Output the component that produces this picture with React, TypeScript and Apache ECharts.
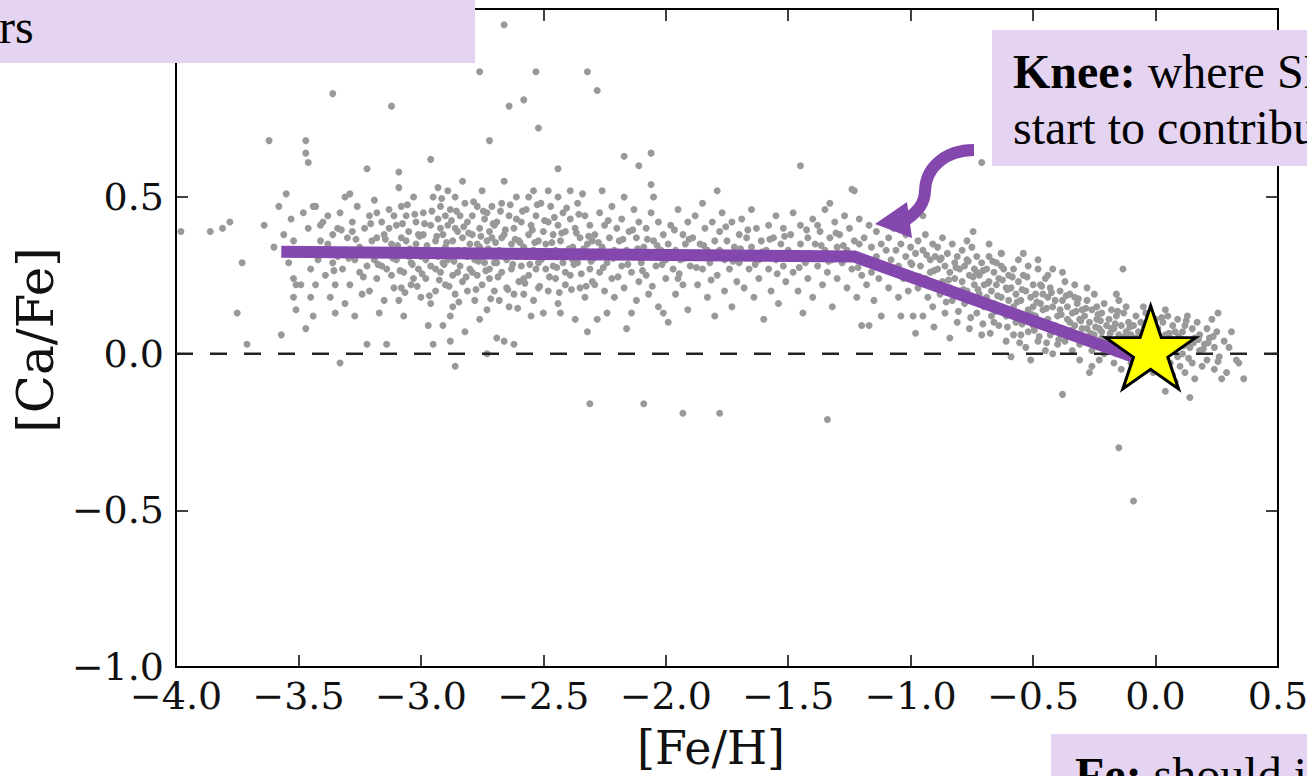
import React, { useEffect, useRef } from "react";
import * as echarts from "echarts";

// Axis settings for the [Ca/Fe] vs [Fe/H] diagram
const feHTicks = { min: -4.0, max: 0.5, step: 0.5 };
const caFeTicks = { min: -1.0, max: 1.1, step: 0.5 };

// Isolated stars away from the main sequences
const scatteredStars: [number, number][] = [
  [-2.66, 1.05], [-3.36, 0.83], [-3.12, 0.79], [-2.76, 0.9], [-2.53, 0.9], [-2.32, 0.9], [-2.28, 0.84],
  [-2.64, 0.79], [-2.58, 0.81], [-2.52, 0.72], [-3.62, 0.68], [-3.47, 0.68], [-3.47, 0.64], [-3.46, 0.61],
  [-2.72, 0.68], [-3.22, 0.59], [-2.96, 0.62], [-3.09, 0.58], [-2.06, 0.64], [-1.45, 0.6], [-0.71, 0.61],
  [-1.24, 0.525], [-1.79, 0.52], [-2.06, 0.54], [-3.98, 0.39], [-3.86, 0.39], [-3.81, 0.4], [-3.78, 0.42],
  [-3.73, 0.29], [-3.75, 0.13], [-3.71, 0.03], [-3.33, -0.03], [-2.86, -0.04], [-2.73, 0.0], [-2.31, -0.16],
  [-2.09, -0.16], [-1.93, -0.19], [-1.78, -0.19], [-1.34, -0.21], [-0.15, -0.3], [-0.09, -0.47], [-0.38, -0.13],
  [0.36, -0.08], [0.27, -0.08], [0.14, -0.14], [0.04, -0.12], [-0.133, 0.27], [0.255, 0.13], [-0.745, 0.39],
  [-0.95, 0.44], [-1.23, 0.52], [-1.33, 0.48], [-3.64, 0.41], [-2.44, 0.59], [-2.17, 0.63], [-2.39, 0.52],
  [-2.11, 0.6], [0.3, 0.02], [0.34, -0.03], [-0.63, 0.32], [-0.48, 0.27], [-1.17, 0.09], [-0.84, 0.05],
  [-0.59, -0.01], [-0.51, -0.02], [-0.27, -0.06],
];

// Metal-poor halo stars on the alpha plateau
const haloStars: [number, number][] = [
  [-3.55, 0.51], [-3.53, 0.43], [-3.56, 0.38], [-3.52, 0.36], [-3.52, 0.24], [-3.51, 0.22], [-3.52, 0.18], [-3.51, 0.14], [-3.57, 0.06], [-3.6, 0.34], [-3.58, 0.47], [-3.54, 0.29],
  [-3.49, 0.22], [-3.47, 0.08], [-3.45, 0.27], [-3.45, 0.18], [-3.44, 0.47], [-3.43, 0.47], [-3.47, 0.32], [-3.46, 0.4], [-3.42, 0.3], [-3.41, 0.36], [-3.48, 0.45], [-3.44, 0.12], [-3.43, 0.22], [-3.41, 0.41],
  [-3.4, 0.42], [-3.38, 0.44], [-3.37, 0.18], [-3.35, 0.13], [-3.39, 0.25], [-3.36, 0.29], [-3.36, 0.38], [-3.34, 0.4], [-3.33, 0.33], [-3.33, 0.45], [-3.32, 0.27], [-3.31, 0.5], [-3.38, 0.35], [-3.35, 0.22], [-3.31, 0.16], [-3.34, 0.31],
  [-3.3, 0.37], [-3.29, 0.22], [-3.28, 0.42], [-3.27, 0.3], [-3.26, 0.47], [-3.25, 0.34], [-3.24, 0.19], [-3.23, 0.4], [-3.22, 0.03], [-3.22, 0.28], [-3.21, 0.44], [-3.2, 0.36], [-3.29, 0.51], [-3.27, 0.12], [-3.25, 0.26], [-3.23, 0.33], [-3.21, 0.2], [-3.28, 0.39],
  [-3.19, 0.49], [-3.18, 0.24], [-3.17, 0.13], [-3.17, 0.32], [-3.16, 0.42], [-3.15, 0.38], [-3.14, 0.03], [-3.14, 0.27], [-3.13, 0.46], [-3.12, 0.35], [-3.11, 0.21], [-3.19, 0.3], [-3.18, 0.37], [-3.16, 0.28], [-3.15, 0.17], [-3.13, 0.4], [-3.12, 0.25], [-3.11, 0.44], [-3.18, 0.45], [-3.14, 0.33],
  [-3.1, 0.41], [-3.1, 0.3], [-3.09, 0.17], [-3.08, 0.47], [-3.08, 0.37], [-3.07, 0.26], [-3.06, 0.44], [-3.06, 0.33], [-3.05, 0.39], [-3.04, 0.22], [-3.04, 0.29], [-3.03, 0.5], [-3.02, 0.35], [-3.02, 0.42], [-3.01, 0.27], [-3.0, 0.18], [-3.0, 0.31], [-3.09, 0.53], [-3.07, 0.12], [-3.05, 0.31], [-3.03, 0.24], [-3.01, 0.38], [-3.08, 0.21], [-3.06, 0.36],
  [-2.99, 0.45], [-2.99, 0.38], [-2.98, 0.24], [-2.97, 0.09], [-2.97, 0.33], [-2.96, 0.41], [-2.96, 0.28], [-2.95, 0.03], [-2.95, 0.5], [-2.94, 0.36], [-2.94, 0.2], [-2.93, 0.43], [-2.93, 0.31], [-2.92, 0.26], [-2.92, 0.47], [-2.91, 0.09], [-2.91, 0.38], [-2.9, 0.34], [-2.9, 0.22], [-2.98, 0.3], [-2.96, 0.16], [-2.94, 0.27], [-2.93, 0.53], [-2.92, 0.4], [-2.91, 0.29], [-2.9, 0.44],
  [-2.89, 0.41], [-2.89, 0.3], [-2.88, 0.12], [-2.88, 0.04], [-2.88, 0.46], [-2.87, 0.36], [-2.87, 0.25], [-2.86, 0.5], [-2.86, 0.19], [-2.85, 0.39], [-2.85, 0.33], [-2.84, 0.44], [-2.84, 0.28], [-2.83, 0.23], [-2.83, 0.37], [-2.82, 0.07], [-2.82, 0.48], [-2.81, 0.31], [-2.81, 0.42], [-2.8, 0.27], [-2.8, 0.35], [-2.89, 0.52], [-2.87, 0.15], [-2.86, 0.4], [-2.85, 0.26], [-2.83, 0.55], [-2.82, 0.33], [-2.81, 0.2],
  [-2.79, 0.44], [-2.79, 0.38], [-2.78, 0.3], [-2.78, 0.17], [-2.77, 0.47], [-2.77, 0.25], [-2.76, 0.4], [-2.76, 0.34], [-2.75, 0.22], [-2.75, 0.52], [-2.74, 0.29], [-2.74, 0.43], [-2.73, 0.36], [-2.73, 0.14], [-2.72, 0.39], [-2.72, 0.27], [-2.71, 0.47], [-2.71, 0.32], [-2.7, 0.2], [-2.7, 0.41], [-2.79, 0.26], [-2.77, 0.35], [-2.76, 0.11], [-2.75, 0.31], [-2.73, 0.45], [-2.72, 0.24], [-2.71, 0.37], [-2.7, 0.29],
  [-2.69, 0.05], [-2.68, 0.17], [-2.69, 0.42], [-2.68, 0.33], [-2.67, 0.26], [-2.67, 0.48], [-2.66, 0.04], [-2.66, 0.38], [-2.65, 0.3], [-2.65, 0.21], [-2.64, 0.15], [-2.64, 0.44], [-2.63, 0.35], [-2.63, 0.27], [-2.62, 0.03], [-2.62, 0.4], [-2.61, 0.31], [-2.61, 0.5], [-2.6, 0.23], [-2.6, 0.36], [-2.69, 0.29], [-2.67, 0.37], [-2.66, 0.55], [-2.64, 0.32], [-2.62, 0.19], [-2.61, 0.43],
  [-2.59, 0.42], [-2.59, 0.28], [-2.58, 0.34], [-2.58, 0.19], [-2.57, 0.46], [-2.57, 0.31], [-2.56, 0.38], [-2.56, 0.25], [-2.55, 0.41], [-2.55, 0.12], [-2.54, 0.33], [-2.54, 0.52], [-2.53, 0.27], [-2.53, 0.44], [-2.52, 0.36], [-2.52, 0.21], [-2.51, 0.3], [-2.51, 0.48], [-2.5, 0.13], [-2.5, 0.39], [-2.58, 0.24], [-2.56, 0.5], [-2.54, 0.17], [-2.52, 0.29],
  [-2.49, 0.35], [-2.49, 0.27], [-2.48, 0.42], [-2.48, 0.2], [-2.47, 0.31], [-2.47, 0.47], [-2.46, 0.38], [-2.45, 0.24], [-2.45, 0.33], [-2.44, 0.41], [-2.44, 0.16], [-2.43, 0.13], [-2.43, 0.36], [-2.42, 0.29], [-2.42, 0.45], [-2.41, 0.22], [-2.41, 0.39], [-2.4, 0.32], [-2.48, 0.52], [-2.46, 0.28], [-2.44, 0.5], [-2.41, 0.26],
  [-2.39, 0.43], [-2.39, 0.25], [-2.38, 0.34], [-2.37, 0.11], [-2.37, 0.4], [-2.36, 0.29], [-2.36, 0.48], [-2.35, 0.21], [-2.35, 0.37], [-2.34, 0.32], [-2.33, 0.44], [-2.33, 0.18], [-2.32, 0.07], [-2.32, 0.35], [-2.31, 0.27], [-2.31, 0.41], [-2.3, 0.23], [-2.38, 0.3], [-2.34, 0.51], [-2.3, 0.36],
  [-2.29, 0.38], [-2.28, 0.11], [-2.28, 0.31], [-2.27, 0.45], [-2.27, 0.26], [-2.26, 0.34], [-2.25, 0.2], [-2.25, 0.41], [-2.24, 0.13], [-2.24, 0.29], [-2.23, 0.37], [-2.22, 0.47], [-2.22, 0.24], [-2.21, 0.33], [-2.2, 0.4], [-2.29, 0.22], [-2.26, 0.52], [-2.21, 0.18],
  [-2.19, 0.36], [-2.18, 0.28], [-2.18, 0.43], [-2.17, 0.21], [-2.16, 0.08], [-2.16, 0.33], [-2.15, 0.39], [-2.14, 0.13], [-2.14, 0.26], [-2.13, 0.46], [-2.13, 0.31], [-2.12, 0.37], [-2.11, 0.23], [-2.11, 0.42], [-2.1, 0.29], [-2.17, 0.5], [-2.12, 0.17],
  [-2.09, 0.34], [-2.08, 0.4], [-2.08, 0.25], [-2.07, 0.19], [-2.06, 0.31], [-2.06, 0.45], [-2.05, 0.36], [-2.04, 0.28], [-2.03, 0.42], [-2.03, 0.15], [-2.02, 0.33], [-2.01, 0.13], [-2.01, 0.38], [-2.0, 0.24], [-2.05, 0.5], [-2.0, 0.3],
  [-1.99, 0.1], [-1.99, 0.35], [-1.98, 0.41], [-1.97, 0.27], [-1.96, 0.33], [-1.96, 0.19], [-1.95, 0.46], [-1.94, 0.3], [-1.93, 0.38], [-1.93, 0.22], [-1.92, 0.35], [-1.91, 0.42], [-1.91, 0.14], [-1.9, 0.28], [-1.95, 0.24],
  [-1.89, 0.37], [-1.88, 0.31], [-1.88, 0.44], [-1.87, 0.22], [-1.86, 0.35], [-1.85, 0.27], [-1.85, 0.48], [-1.84, 0.4], [-1.83, 0.18], [-1.83, 0.33], [-1.82, 0.29], [-1.81, 0.42], [-1.8, 0.36], [-1.8, 0.12],
  [-1.79, 0.25], [-1.78, 0.39], [-1.78, 0.33], [-1.77, 0.45], [-1.76, 0.2], [-1.76, 0.3], [-1.75, 0.36], [-1.74, 0.27], [-1.73, 0.42], [-1.73, 0.15], [-1.72, 0.34], [-1.71, 0.23], [-1.7, 0.38], [-1.7, 0.29],
  [-1.69, 0.43], [-1.68, 0.32], [-1.68, 0.21], [-1.67, 0.37], [-1.66, 0.27], [-1.65, 0.46], [-1.65, 0.34], [-1.64, 0.18], [-1.63, 0.4], [-1.62, 0.3], [-1.62, 0.24], [-1.61, 0.36], [-1.6, 0.11],
  [-1.59, 0.33], [-1.58, 0.41], [-1.58, 0.27], [-1.57, 0.2], [-1.56, 0.37], [-1.55, 0.3], [-1.55, 0.44], [-1.54, 0.16], [-1.53, 0.35], [-1.52, 0.28], [-1.52, 0.4], [-1.51, 0.23], [-1.5, 0.33],
  [-1.49, 0.38], [-1.48, 0.26], [-1.48, 0.45], [-1.47, 0.31], [-1.46, 0.2], [-1.45, 0.35], [-1.45, 0.41], [-1.44, 0.13], [-1.43, 0.29], [-1.42, 0.37], [-1.42, 0.24], [-1.41, 0.32], [-1.4, 0.43], [-1.4, 0.18],
  [-1.39, 0.35], [-1.38, 0.28], [-1.38, 0.41], [-1.37, 0.39], [-1.36, 0.22], [-1.35, 0.33], [-1.35, 0.46], [-1.34, 0.26], [-1.33, 0.37], [-1.32, 0.15], [-1.32, 0.3], [-1.31, 0.42], [-1.3, 0.24], [-1.3, 0.34],
  [-1.29, 0.38], [-1.28, 0.29], [-1.27, 0.44], [-1.26, 0.21], [-1.26, 0.33], [-1.25, 0.4], [-1.24, 0.27], [-1.23, 0.36], [-1.22, 0.18], [-1.22, 0.31], [-1.21, 0.43], [-1.2, 0.25], [-1.2, 0.09], [-1.21, 0.35],
];

// Crowded core of the plateau
const haloCore: [number, number][] = [
  [-3.095, 0.345], [-3.085, 0.265], [-3.075, 0.415], [-3.065, 0.195], [-3.055, 0.475], [-3.045, 0.335], [-3.035, 0.285], [-3.025, 0.445], [-3.015, 0.215], [-3.005, 0.375],
  [-2.995, 0.255], [-2.985, 0.415], [-2.975, 0.345], [-2.965, 0.185], [-2.955, 0.455], [-2.945, 0.315], [-2.935, 0.375], [-2.925, 0.235], [-2.915, 0.495], [-2.905, 0.285],
  [-2.895, 0.355], [-2.885, 0.215], [-2.875, 0.425], [-2.865, 0.295], [-2.855, 0.455], [-2.845, 0.165], [-2.835, 0.315], [-2.825, 0.405], [-2.815, 0.245], [-2.805, 0.385],
  [-2.795, 0.325], [-2.785, 0.485], [-2.775, 0.205], [-2.765, 0.295], [-2.755, 0.375], [-2.745, 0.455], [-2.735, 0.265], [-2.725, 0.335], [-2.715, 0.175], [-2.705, 0.415],
  [-2.695, 0.355], [-2.685, 0.245], [-2.675, 0.455], [-2.665, 0.315], [-2.655, 0.395], [-2.645, 0.205], [-2.635, 0.475], [-2.625, 0.285], [-2.615, 0.365], [-2.605, 0.145],
  [-2.595, 0.355], [-2.585, 0.455], [-2.575, 0.225], [-2.565, 0.325], [-2.555, 0.285], [-2.545, 0.395], [-2.535, 0.355], [-2.525, 0.475], [-2.515, 0.215], [-2.505, 0.305],
  [-2.495, 0.425], [-2.485, 0.315], [-2.475, 0.245], [-2.465, 0.355], [-2.455, 0.435], [-2.445, 0.275], [-2.435, 0.195], [-2.425, 0.385], [-2.415, 0.315], [-2.405, 0.465],
  [-2.395, 0.335], [-2.385, 0.205], [-2.375, 0.285], [-2.365, 0.385], [-2.355, 0.445], [-2.345, 0.255], [-2.335, 0.335], [-2.325, 0.215], [-2.315, 0.375], [-2.305, 0.295],
  [-2.295, 0.305], [-2.275, 0.355], [-2.255, 0.275], [-2.235, 0.425], [-2.215, 0.305], [-2.195, 0.245], [-2.175, 0.365], [-2.155, 0.285], [-2.135, 0.395], [-2.115, 0.335],
  [-2.095, 0.265], [-2.075, 0.365], [-2.055, 0.215], [-2.035, 0.345], [-2.015, 0.285], [-1.985, 0.315], [-1.965, 0.395], [-1.945, 0.255], [-1.925, 0.305], [-1.905, 0.365],
  [-1.875, 0.275], [-1.845, 0.345], [-1.815, 0.235], [-1.785, 0.325], [-1.755, 0.405], [-1.725, 0.295], [-1.695, 0.335], [-1.665, 0.395], [-1.635, 0.285], [-1.605, 0.325],
  [-1.575, 0.365], [-1.545, 0.255], [-1.515, 0.375], [-1.485, 0.305], [-1.455, 0.275], [-1.425, 0.395], [-1.395, 0.305], [-1.365, 0.345], [-1.335, 0.295], [-1.305, 0.385],
  [-1.275, 0.345], [-1.245, 0.305], [-1.215, 0.275],
  [-3.385, 0.335], [-3.355, 0.265], [-3.325, 0.395], [-3.295, 0.305], [-3.265, 0.365], [-3.235, 0.245], [-3.205, 0.415], [-3.175, 0.285], [-3.145, 0.365], [-3.115, 0.305],
];

// Disk stars along the declining branch after the knee
const diskStars: [number, number][] = [
  [-1.19, 0.37], [-1.18, 0.3], [-1.18, 0.22], [-1.17, 0.41], [-1.16, 0.26], [-1.16, 0.34], [-1.15, 0.17], [-1.14, 0.31], [-1.14, 0.39], [-1.13, 0.24], [-1.12, 0.35], [-1.12, 0.12], [-1.11, 0.28], [-1.1, 0.33],
  [-1.09, 0.21], [-1.09, 0.37], [-1.08, 0.3], [-1.07, 0.26], [-1.07, 0.4], [-1.06, 0.33], [-1.05, 0.18], [-1.05, 0.28], [-1.04, 0.12], [-1.04, 0.35], [-1.03, 0.24], [-1.02, 0.31], [-1.02, 0.38], [-1.01, 0.2], [-1.0, 0.29], [-1.0, 0.34],
  [-0.99, 0.12], [-0.99, 0.25], [-0.98, 0.32], [-0.98, 0.065], [-0.97, 0.36], [-0.97, 0.21], [-0.96, 0.28], [-0.95, 0.12], [-0.95, 0.33], [-0.94, 0.24], [-0.94, 0.38], [-0.93, 0.18], [-0.92, 0.3], [-0.92, 0.26], [-0.91, 0.35], [-0.91, 0.15], [-0.9, 0.22], [-0.9, 0.31],
  [-0.89, 0.27], [-0.89, 0.34], [-0.88, 0.19], [-0.88, 0.3], [-0.87, 0.23], [-0.87, 0.37], [-0.86, 0.13], [-0.86, 0.28], [-0.85, 0.32], [-0.84, 0.21], [-0.84, 0.26], [-0.83, 0.35], [-0.83, 0.17], [-0.82, 0.29], [-0.82, 0.24], [-0.81, 0.31], [-0.81, 0.1], [-0.8, 0.2], [-0.8, 0.27],
  [-0.79, 0.33], [-0.79, 0.23], [-0.78, 0.16], [-0.78, 0.28], [-0.77, 0.3], [-0.77, 0.2], [-0.76, 0.25], [-0.76, 0.08], [-0.75, 0.34], [-0.75, 0.18], [-0.74, 0.27], [-0.74, 0.22], [-0.73, 0.13], [-0.73, 0.31], [-0.72, 0.25], [-0.72, 0.19], [-0.71, 0.29], [-0.71, 0.06], [-0.7, 0.22], [-0.7, 0.15], [-0.77, 0.36], [-0.73, 0.26],
  [-0.69, 0.27], [-0.69, 0.18], [-0.68, 0.23], [-0.68, 0.31], [-0.67, 0.12], [-0.67, 0.2], [-0.66, 0.26], [-0.66, 0.16], [-0.65, 0.29], [-0.65, 0.22], [-0.64, 0.09], [-0.64, 0.24], [-0.63, 0.32], [-0.63, 0.18], [-0.62, 0.14], [-0.62, 0.27], [-0.61, 0.21], [-0.61, 0.04], [-0.6, 0.17], [-0.6, 0.25], [-0.68, 0.35], [-0.66, 0.1], [-0.63, 0.28], [-0.61, 0.12],
  [-0.59, 0.21], [-0.58, 0.15], [-0.58, 0.27], [-0.57, 0.19], [-0.57, 0.1], [-0.56, 0.23], [-0.56, 0.3], [-0.55, 0.06], [-0.55, 0.17], [-0.54, 0.25], [-0.54, 0.12], [-0.53, 0.2], [-0.53, 0.02], [-0.52, 0.14], [-0.52, 0.28], [-0.51, 0.18], [-0.5, 0.22], [-0.5, 0.09], [-0.58, 0.06], [-0.56, 0.13], [-0.54, 0.32], [-0.52, 0.07], [-0.5, 0.15],
  [-0.49, 0.19], [-0.49, 0.12], [-0.48, 0.04], [-0.47, 0.16], [-0.47, 0.22], [-0.46, 0.09], [-0.46, 0.14], [-0.45, 0.24], [-0.45, 0.01], [-0.44, 0.18], [-0.44, 0.11], [-0.43, 0.06], [-0.43, 0.21], [-0.42, 0.15], [-0.42, 0.27], [-0.41, 0.09], [-0.41, 0.17], [-0.4, 0.12], [-0.4, 0.03], [-0.48, 0.3], [-0.46, 0.19], [-0.44, 0.25], [-0.42, 0.0],
  [-0.39, 0.2], [-0.39, 0.14], [-0.38, 0.08], [-0.38, 0.17], [-0.37, 0.23], [-0.37, 0.04], [-0.36, 0.11], [-0.36, 0.15], [-0.35, 0.06], [-0.35, 0.19], [-0.34, 0.01], [-0.34, 0.13], [-0.33, 0.09], [-0.33, 0.22], [-0.32, 0.16], [-0.32, 0.05], [-0.31, 0.11], [-0.31, -0.02], [-0.3, 0.14], [-0.3, 0.08], [-0.38, 0.26], [-0.35, 0.1], [-0.33, 0.18], [-0.31, 0.03],
  [-0.29, 0.12], [-0.29, 0.04], [-0.28, 0.17], [-0.28, 0.08], [-0.27, 0.1], [-0.26, 0.01], [-0.26, 0.14], [-0.25, 0.06], [-0.25, 0.19], [-0.24, 0.03], [-0.24, 0.11], [-0.23, 0.08], [-0.23, -0.02], [-0.22, 0.13], [-0.22, 0.05], [-0.21, 0.16], [-0.21, 0.0], [-0.2, 0.09], [-0.2, 0.03], [-0.28, 0.21], [-0.26, -0.04], [-0.24, 0.15], [-0.22, 0.07],
  [-0.19, 0.11], [-0.19, 0.05], [-0.18, 0.02], [-0.18, 0.14], [-0.17, -0.03], [-0.17, 0.08], [-0.16, 0.12], [-0.16, 0.0], [-0.15, 0.06], [-0.15, 0.17], [-0.14, -0.05], [-0.14, 0.09], [-0.13, 0.03], [-0.13, 0.13], [-0.12, 0.07], [-0.12, -0.01], [-0.11, 0.1], [-0.11, 0.04], [-0.1, -0.03], [-0.1, 0.06], [-0.18, 0.08], [-0.16, 0.19], [-0.14, 0.01], [-0.12, 0.15],
  [-0.09, 0.09], [-0.09, 0.01], [-0.08, 0.05], [-0.08, 0.12], [-0.07, -0.02], [-0.07, 0.07], [-0.06, 0.03], [-0.06, 0.1], [-0.05, -0.05], [-0.05, 0.06], [-0.04, 0.0], [-0.04, 0.13], [-0.03, 0.04], [-0.03, -0.03], [-0.02, 0.08], [-0.01, 0.02], [-0.01, -0.06], [0.0, 0.05], [0.0, 0.11], [-0.08, -0.07], [-0.05, 0.15], [-0.02, -0.01],
  [0.01, 0.08], [0.01, -0.02], [0.02, 0.03], [0.03, 0.1], [0.03, -0.05], [0.04, 0.06], [0.05, 0.01], [0.05, 0.12], [0.06, -0.03], [0.06, 0.05], [0.07, 0.09], [0.07, -0.07], [0.08, 0.02], [0.08, 0.07], [0.09, -0.01], [0.09, 0.11], [0.1, 0.04], [0.1, -0.04], [0.04, 0.14], [0.08, -0.09],
  [0.11, 0.07], [0.11, 0.0], [0.12, 0.09], [0.12, -0.06], [0.13, 0.04], [0.13, 0.12], [0.14, 0.02], [0.15, -0.03], [0.15, 0.08], [0.16, 0.05], [0.16, -0.08], [0.17, 0.1], [0.18, 0.01], [0.18, 0.06], [0.19, -0.04], [0.2, 0.03],
  [0.21, 0.08], [0.21, -0.02], [0.22, 0.05], [0.23, 0.11], [0.24, -0.05], [0.24, 0.02], [0.25, 0.07], [0.26, -0.01], [0.28, 0.04], [0.29, -0.06], [0.31, 0.07], [0.33, -0.02],
];

// Crowded core of the declining branch
const diskCore: [number, number][] = [
  [-0.995, 0.285], [-0.965, 0.245], [-0.935, 0.315], [-0.905, 0.265], [-0.875, 0.305], [-0.845, 0.235], [-0.815, 0.275], [-0.785, 0.205], [-0.765, 0.295], [-0.745, 0.245],
  [-0.725, 0.205], [-0.705, 0.265], [-0.685, 0.225], [-0.665, 0.295], [-0.645, 0.185], [-0.625, 0.235], [-0.605, 0.205], [-0.585, 0.245], [-0.565, 0.165], [-0.545, 0.205],
  [-0.525, 0.245], [-0.505, 0.125], [-0.485, 0.165], [-0.465, 0.215], [-0.445, 0.145], [-0.425, 0.195], [-0.405, 0.085], [-0.385, 0.125], [-0.365, 0.185], [-0.345, 0.075],
  [-0.325, 0.135], [-0.305, 0.105], [-0.285, 0.145], [-0.265, 0.065], [-0.245, 0.085], [-0.225, 0.105], [-0.205, 0.045], [-0.185, 0.065], [-0.165, 0.095], [-0.145, 0.035],
  [-0.125, 0.055], [-0.105, 0.085], [-0.085, 0.025], [-0.065, 0.055], [-0.045, 0.085], [-0.025, 0.035], [-0.005, 0.075], [0.015, 0.035], [0.035, 0.015], [0.055, 0.065],
  [0.075, 0.035], [0.095, 0.055], [0.115, 0.025], [0.135, -0.015], [0.155, 0.035], [0.175, 0.045], [0.195, 0.015], [0.215, 0.035], [0.235, 0.055], [0.255, -0.025],
  [-0.555, 0.035], [-0.475, 0.055], [-0.395, 0.045], [-0.315, 0.175], [-0.235, 0.125], [-0.155, 0.135], [-0.075, -0.035], [0.025, 0.115], [0.125, 0.105], [-0.675, 0.065],
  [-0.905, 0.085], [-0.855, 0.165], [-0.805, 0.135], [-0.755, 0.115], [-0.705, 0.095], [-0.655, 0.135], [-0.605, 0.085], [-0.545, 0.095], [-0.495, 0.075], [-0.445, 0.035],
];

// Schematic trend: plateau, knee, decline toward solar
const trendLine: [number, number][] = [
  [-3.57, 0.325],
  [-1.23, 0.31],
  [-0.09, -0.01],
];

// Solar reference line and the Sun itself
const solarLine: [number, number][] = [
  [-4.0, 0.0],
  [0.5, 0.0],
];
const sunPoint: [number, number][] = [[-0.02, 0.02]];

const starPath =
  "path://M100,0 L122.45,69.1 L195.1,69.1 L136.3,111.8 L158.8,180.9 L100,138.2 L41.2,180.9 L63.7,111.8 L4.9,69.1 L77.55,69.1 Z";

const PURPLE = "#8447AD";
const BOX = "#E4D4F1";
const SERIF_TICK = "DejaVu Serif";
const SERIF_TEXT = "Liberation Serif";

const fmt = (v: number) => (v < 0 ? "\u2212" + Math.abs(v).toFixed(1) : v.toFixed(1));

const frameAxis = {
  axisLine: { show: true, onZero: false, lineStyle: { color: "#000", width: 2 } },
  axisTick: { show: true, inside: true, length: 12, lineStyle: { color: "#000", width: 1.5 } },
  splitLine: { show: false },
};

export default function App() {
  const ref = useRef<HTMLDivElement>(null);

  useEffect(() => {
    if (!ref.current) return;
    const chart = echarts.init(ref.current, undefined, { renderer: "svg" });

    const option = {
      animation: false,
      backgroundColor: "#ffffff",
      grid: { left: 176, right: 29, top: 9, bottom: 109, containLabel: false, outerBoundsMode: "none" },
      xAxis: [
        {
          type: "value",
          position: "bottom",
          min: feHTicks.min,
          max: feHTicks.max,
          interval: feHTicks.step,
          ...frameAxis,
          axisLabel: { fontFamily: SERIF_TICK, fontSize: 38, lineHeight: 22, color: "#111", margin: 18, formatter: fmt },
        },
        {
          type: "value",
          position: "top",
          min: feHTicks.min,
          max: feHTicks.max,
          interval: feHTicks.step,
          ...frameAxis,
          axisLabel: { show: false },
        },
      ],
      yAxis: [
        {
          type: "value",
          position: "left",
          min: caFeTicks.min,
          max: caFeTicks.max,
          interval: caFeTicks.step,
          ...frameAxis,
          axisLabel: {
            fontFamily: SERIF_TICK,
            fontSize: 38,
            lineHeight: 26,
            color: "#111",
            margin: 12,
            formatter: (v: number) => (v > 0.9 ? "" : fmt(v)),
          },
        },
        {
          type: "value",
          position: "right",
          min: caFeTicks.min,
          max: caFeTicks.max,
          interval: caFeTicks.step,
          ...frameAxis,
          axisLabel: { show: false },
        },
      ],
      series: [
        {
          type: "scatter",
          data: [...haloStars, ...haloCore, ...diskStars, ...diskCore, ...scatteredStars],
          symbol: "circle",
          symbolSize: 7,
          itemStyle: { color: "#999999", opacity: 1 },
          z: 2,
          silent: true,
        },
        {
          type: "line",
          data: solarLine,
          symbol: "none",
          lineStyle: { color: "#222", width: 2.5, type: [17, 17] },
          z: 3,
          silent: true,
        },
        {
          type: "line",
          data: trendLine,
          symbol: "none",
          lineStyle: { color: PURPLE, width: 12, cap: "butt", join: "miter" },
          z: 4,
          silent: true,
        },
        {
          type: "scatter",
          data: sunPoint,
          symbol: starPath,
          symbolSize: [90, 83],
          itemStyle: { color: "#FFFF00", borderColor: "#000", borderWidth: 3, opacity: 1 },
          z: 5,
          silent: true,
        },
      ],
      graphic: [
        // axis titles
        {
          type: "text",
          x: 711,
          y: 748,
          style: {
            text: "[Fe/H]",
            fontFamily: SERIF_TICK,
            fontSize: 46,
            fill: "#111",
            textAlign: "center",
            textVerticalAlign: "middle",
          },
        },
        {
          type: "text",
          x: 36,
          y: 340,
          rotation: Math.PI / 2,
          style: {
            text: "[Ca/Fe]",
            fontFamily: SERIF_TICK,
            fontSize: 50,
            fill: "#111",
            textAlign: "center",
            textVerticalAlign: "middle",
          },
        },
        // annotation boxes
        {
          type: "rect",
          z: 100,
          shape: { x: 0, y: 0, width: 475, height: 63 },
          style: { fill: BOX },
        },
        {
          type: "text",
          z: 101,
          x: -1,
          y: 26,
          style: {
            text: "rs",
            fontFamily: SERIF_TEXT,
            fontSize: 48,
            fill: "#000",
            textAlign: "left",
            textVerticalAlign: "middle",
          },
        },
        {
          type: "rect",
          z: 100,
          shape: { x: 992, y: 30, width: 330, height: 136 },
          style: { fill: BOX },
        },
        {
          type: "text",
          z: 101,
          x: 1013,
          y: 43,
          style: {
            text: "{b|Knee:} {r|where SNe Ia}\n{r|start to contribute}",
            fontFamily: SERIF_TEXT,
            fontSize: 48,
            lineHeight: 56,
            fill: "#000",
            textAlign: "left",
            textVerticalAlign: "top",
            rich: {
              b: { fontFamily: SERIF_TEXT, fontSize: 48, fontWeight: "bold", lineHeight: 56, fill: "#000" },
              r: { fontFamily: SERIF_TEXT, fontSize: 48, lineHeight: 56, fill: "#000" },
            },
          },
        },
        {
          type: "rect",
          z: 100,
          shape: { x: 1051, y: 734, width: 270, height: 60 },
          style: { fill: BOX },
        },
        {
          type: "text",
          z: 101,
          x: 1075,
          y: 746,
          style: {
            text: "{b|Fe:} {r|should increase}",
            fontFamily: SERIF_TEXT,
            fontSize: 48,
            lineHeight: 56,
            fill: "#000",
            textAlign: "left",
            textVerticalAlign: "top",
            rich: {
              b: { fontFamily: SERIF_TEXT, fontSize: 48, fontWeight: "bold", lineHeight: 56, fill: "#000" },
              r: { fontFamily: SERIF_TEXT, fontSize: 48, lineHeight: 56, fill: "#000" },
            },
          },
        },
        // curved arrow pointing at the knee
        {
          type: "bezierCurve",
          z: 50,
          shape: { x1: 974, y1: 150, x2: 925, y2: 192, cpx1: 945, cpy1: 150, cpx2: 925, cpy2: 168 },
          style: { stroke: PURPLE, lineWidth: 12, fill: null, lineCap: "butt" },
        },
        {
          type: "bezierCurve",
          z: 50,
          shape: { x1: 925, y1: 190, x2: 906, y2: 220, cpx1: 925, cpy1: 204, cpx2: 917, cpy2: 212 },
          style: { stroke: PURPLE, lineWidth: 12, fill: null, lineCap: "butt" },
        },
        {
          type: "polygon",
          z: 51,
          shape: { points: [[875, 224], [907, 202], [912, 238]] },
          style: { fill: PURPLE },
        },
      ],
    };

    chart.setOption(option as any);
    return () => chart.dispose();
  }, []);

  return (
    <div
      ref={ref}
      style={{ position: "absolute", left: 0, top: 0, width: 1307, height: 776, overflow: "hidden", background: "#fff" }}
    />
  );
}
